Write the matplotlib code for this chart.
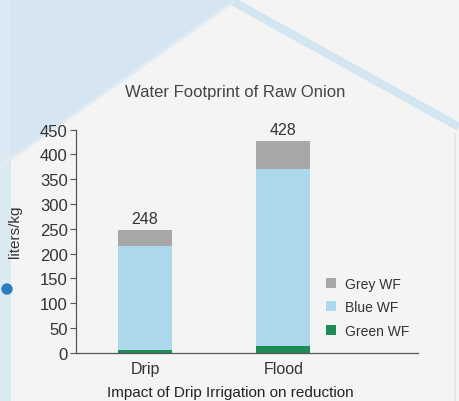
import matplotlib
matplotlib.use("Agg")
import matplotlib.pyplot as plt
from matplotlib.patches import Polygon, Circle, Rectangle

# data
methods = ["Drip", "Flood"]
green_wf = [6, 13]
blue_wf = [210, 357]
grey_wf = [32, 58]
totals = [248, 428]
yticks = [0, 50, 100, 150, 200, 250, 300, 350, 400, 450]

plt.rcParams["font.family"] = ["Liberation Sans", "DejaVu Sans"]

W, H = 459, 402
fig = plt.figure(figsize=(W / 100, H / 100), dpi=100)
fig.patch.set_facecolor("#f4f4f4")

# background decoration (house shape)
bg = fig.add_axes([0, 0, 1, 1], zorder=-1)
bg.set_xlim(0, W)
bg.set_ylim(H, 0)
bg.axis("off")
bg.add_patch(Polygon([(0, 0), (232, 0), (232, 4), (0, 168)],
                     closed=True, color="#d5e5f1", lw=0))
bg.add_patch(Rectangle((0, 0), 11, H, color="#dbe9f2", lw=0))
bg.plot([232, 459], [2, 128], color="#d2e5f0", lw=6, solid_capstyle="butt")
bg.plot([232, 0], [4, 168], color="#e3ecf3", lw=2)
bg.plot([455, 455], [135, H], color="#e4e4e4", lw=1.2)
bg.add_patch(Circle((7, 290), 5, color="#2a7cc0"))

ax = fig.add_axes([76 / W, 48.3 / H, 342 / W, 223 / H])
ax.set_facecolor("none")

x = list(range(len(methods)))
bw = 0.39
ax.bar(x, green_wf, bw, color="#1e8c55", label="Green WF")
ax.bar(x, blue_wf, bw, bottom=green_wf, color="#acd8ee", label="Blue WF")
bottoms = [g + b for g, b in zip(green_wf, blue_wf)]
ax.bar(x, grey_wf, bw, bottom=bottoms, color="#a7a7a7", label="Grey WF")

for xi, t in zip(x, totals):
    ax.text(xi, t + 7, str(t), ha="center", va="bottom",
            fontsize=11.5, color="#333333")

ax.set_xlim(-0.498, 1.972)
ax.set_ylim(0, 450)
ax.set_yticks(yticks)
ax.set_xticks(x)
ax.set_xticklabels(methods)
ax.tick_params(axis="x", length=0, pad=6, labelsize=11.5, colors="#333333")
ax.tick_params(axis="y", length=4, width=0.8, pad=2, labelsize=12,
               colors="#333333")
ax.tick_params(axis="y", color="#555555")
for s in ["top", "right"]:
    ax.spines[s].set_visible(False)
for s in ["left", "bottom"]:
    ax.spines[s].set_color("#555555")
    ax.spines[s].set_linewidth(0.9)
ax.set_ylabel("liters/kg", fontsize=11, color="#333333")
ax.yaxis.set_label_coords(-0.158, 0.546)

handles, labels = ax.get_legend_handles_labels()
ax.legend(handles[::-1], labels[::-1], loc="lower right",
          bbox_to_anchor=(1.01, 0.012), frameon=False, fontsize=10,
          handlelength=0.7, handleheight=0.7, handletextpad=0.6,
          labelspacing=0.68, labelcolor="#333333")

fig.text(235 / W, 1 - 92 / H, "Water Footprint of Raw Onion",
         ha="center", va="center", fontsize=12, color="#444444")
fig.text(107 / W, 1 - 386 / H, "Impact of Drip Irrigation on reduction",
         ha="left", va="top", fontsize=11, color="#222222")

fig.savefig("out.png", dpi=100, facecolor=fig.get_facecolor())
